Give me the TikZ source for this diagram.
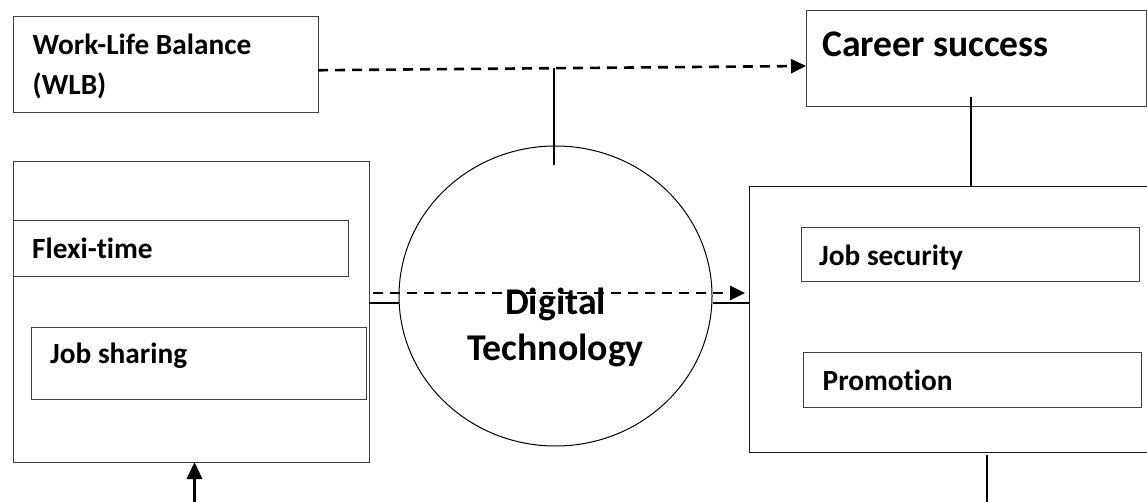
\documentclass[tikz,border=0pt]{standalone}
\usepackage{fontspec}
\setmainfont{Carlito}[Ligatures=NoCommon]
\usetikzlibrary{arrows.meta,calc,shapes.geometric}
\begin{document}
\begin{tikzpicture}[x=1pt,y=-1pt,
  box/.style={draw=black!75,line width=1pt,inner sep=0pt,outer sep=0pt,anchor=north west},
  lbl/.style={anchor=base west,inner sep=0pt,align=left,font=\bfseries\fontsize{29.3}{40}\selectfont},
  biglbl/.style={inner sep=0pt,font=\bfseries\fontsize{37.8}{46}\selectfont},
  dasharrow/.style={line width=2.6pt,dash pattern=on 10pt off 7pt,-{Triangle[length=15pt,width=14pt]}},
  conn/.style={line width=1.5pt},
  uparrow/.style={line width=3pt,-{Triangle[length=17pt,width=15pt]}}]
\useasboundingbox (0,0) rectangle (1147,502);
% boxes
\node[box,minimum width=305pt,minimum height=95.5pt] (wlb) at (13,17) {};
\node[box,minimum width=340pt,minimum height=96pt] (career) at (806,11) {};
\node[box,minimum width=356pt,minimum height=300pt] (lbox) at (13,162) {};
\node[box,minimum width=335pt,minimum height=56pt] (flexi) at (13,221) {};
\node[box,minimum width=335pt,minimum height=72pt] (jshare) at (31,327) {};
\node[box,draw=black!90,minimum width=400pt,minimum height=265pt] (rbox) at (749,187) {};
\node[box,minimum width=338pt,minimum height=54pt] (jsec) at (801,228) {};
\node[box,minimum width=338.5pt,minimum height=55pt] (promo) at (803,352) {};
\node[draw=black,line width=1pt,ellipse,inner sep=0pt,minimum width=313pt,minimum height=300pt] (dt) at (555.5,296) {};
% labels
\node[lbl] (twlb) at (32.5,95) {Work-Life Balance\\(WLB)};
\node[lbl,font=\bfseries\fontsize{37.6}{46}\selectfont] (tcareer) at (822,57) {Career success};
\node[lbl] (tflexi) at (32,259) {Flexi-time};
\node[lbl] (tjshare) at (50,363) {Job sharing};
\node[lbl] (tjsec) at (819,266) {Job security};
\node[lbl] (tpromo) at (822.5,390.5) {Promotion};
\node[biglbl,anchor=base,align=center] (tdt) at (555.5,360) {Digital\\Technology};
% connectors
\coordinate (wa) at ($(wlb.east)+(0,5.5)$);
\coordinate (ca) at ($(career.west)+(0,7)$);
\draw[dasharrow] (wa) -- (ca);
\coordinate (vt) at (554,68);
\coordinate (vb) at (554,165);
\draw[conn] (vt) -- (vb);
\coordinate (cs) at ($(career.south)+(-5,-10)$);
\draw[conn] (cs) -- (cs |- rbox.north);
\coordinate (rb1) at (987,455);
\coordinate (rb2) at (987,502);
\draw[line width=2pt] (rb1) -- (rb2);
\coordinate (la) at (194.5,502);
\draw[uparrow] (la) -- (la |- lbox.south);
\draw[conn] (lbox.east |- 0,303) -- (dt.west |- 0,303);
\draw[conn] (dt.east |- 0,303) -- (rbox.west |- 0,303);
\coordinate (ma) at ($(lbox.east |- 0,293)+(4,0)$);
\coordinate (mb) at ($(rbox.west |- 0,293)+(-4,0)$);
\draw[dasharrow] (ma) -- (mb);
\end{tikzpicture}
\end{document}
